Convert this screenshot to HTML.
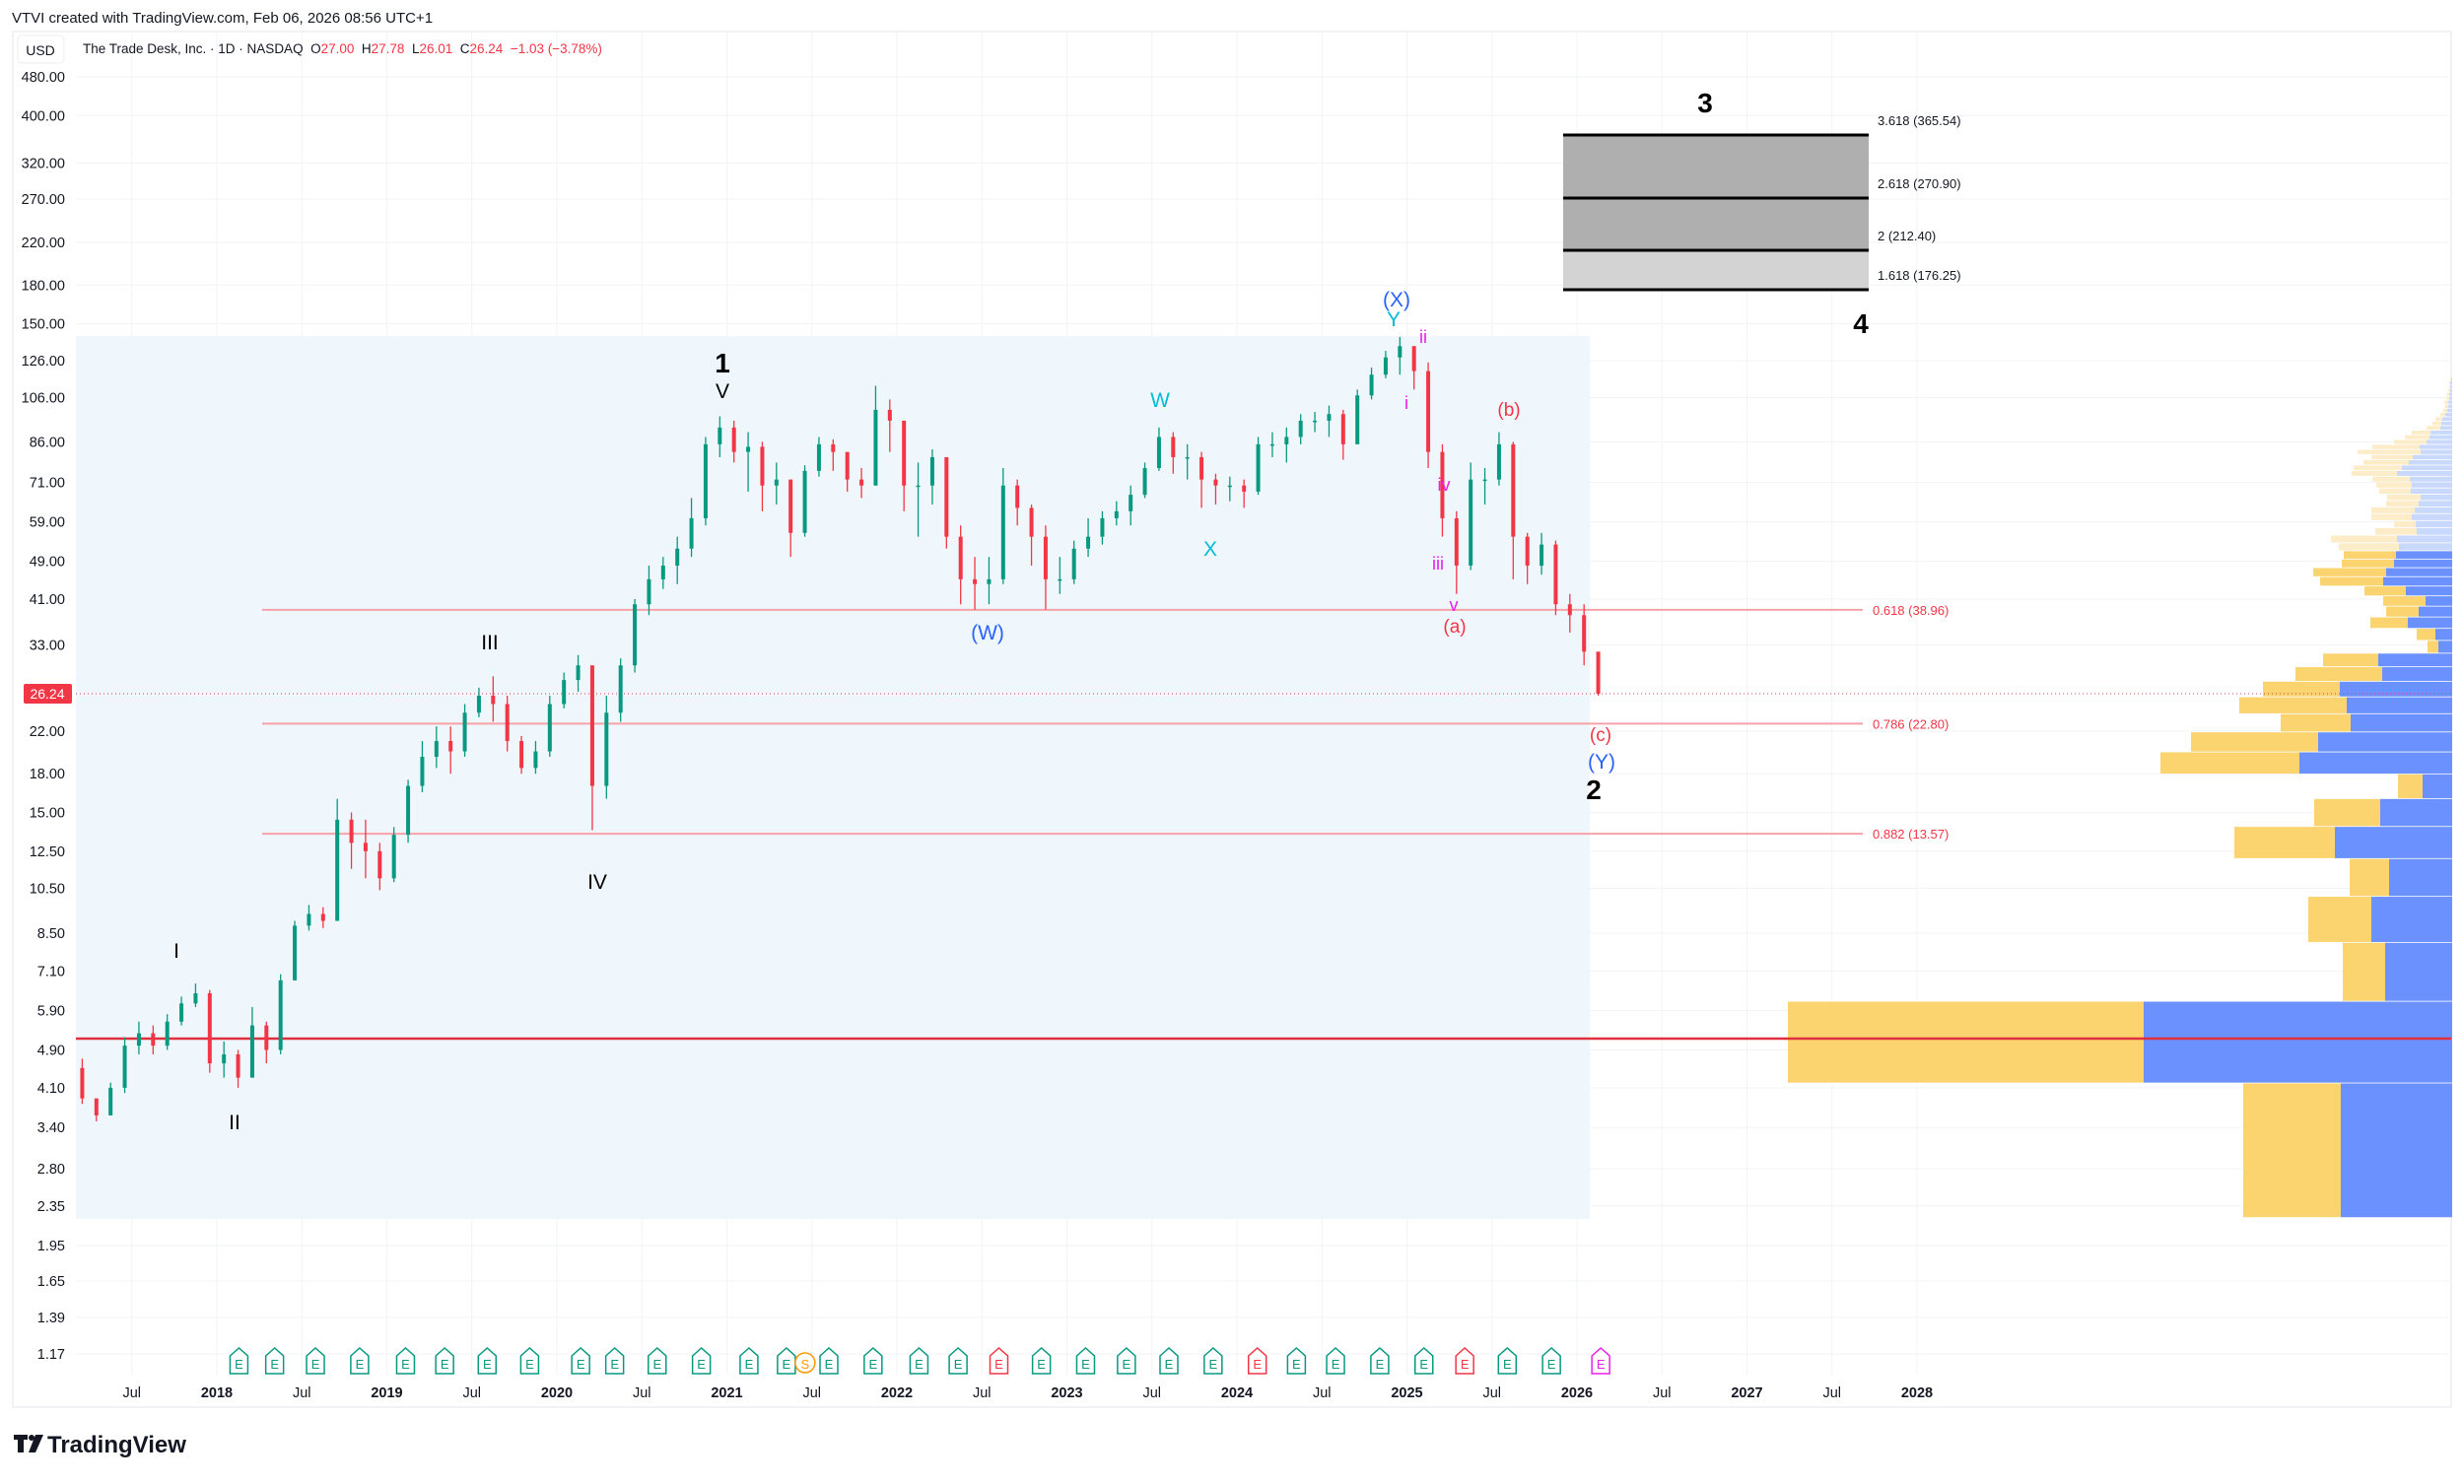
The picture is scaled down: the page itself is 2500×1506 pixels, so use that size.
<!DOCTYPE html>
<html><head><meta charset="utf-8"><style>
html,body{margin:0;padding:0;background:#fff;}
body{width:2500px;height:1501px;overflow:hidden;font-family:"Liberation Sans",sans-serif;}
svg text{font-family:"Liberation Sans",sans-serif;}
</style></head><body>
<svg id="chart" width="2500" height="1501" viewBox="0 0 2500 1501" xmlns="http://www.w3.org/2000/svg">
<rect x="0" y="0" width="2500" height="1501" fill="#fff"/>
<text x="12" y="23" font-size="15" fill="#131722">VTVI created with TradingView.com, Feb 06, 2026 08:56 UTC+1</text>
<rect x="13" y="32" width="2474" height="1396" fill="#fff" stroke="#eceef2" stroke-width="1.5"/>
<g id="grid"></g>
<rect x="77" y="341" width="1536" height="896" fill="#eff7fc"/>
<g id="vp"></g>
<g id="levels"></g>
<g id="candles"></g>
<g id="fib">
<rect x="1586" y="137" width="310" height="117" fill="#afafaf"/>
<rect x="1586" y="254" width="310" height="40" fill="#d3d3d3"/>
<line x1="1586" y1="137" x2="1896" y2="137" stroke="#000" stroke-width="3"/>
<line x1="1586" y1="201" x2="1896" y2="201" stroke="#000" stroke-width="3"/>
<line x1="1586" y1="254" x2="1896" y2="254" stroke="#000" stroke-width="3"/>
<line x1="1586" y1="294" x2="1896" y2="294" stroke="#000" stroke-width="3"/>
<text x="1905" y="127" font-size="13" fill="#131722">3.618 (365.54)</text>
<text x="1905" y="191" font-size="13" fill="#131722">2.618 (270.90)</text>
<text x="1905" y="244" font-size="13" fill="#131722">2 (212.40)</text>
<text x="1905" y="284" font-size="13" fill="#131722">1.618 (176.25)</text>
</g>
<g id="waves" font-size="21" text-anchor="middle">
<text x="733" y="378" font-size="28" font-weight="bold" fill="#000">1</text>
<text x="733" y="404" fill="#000">V</text>
<text x="497" y="659" fill="#000">III</text>
<text x="606" y="902" fill="#000">IV</text>
<text x="179" y="972" fill="#000">I</text>
<text x="238" y="1146" fill="#000">II</text>
<text x="1002" y="649" fill="#2962ff">(W)</text>
<text x="1177" y="413" fill="#00bcd4">W</text>
<text x="1228" y="564" fill="#00bcd4">X</text>
<text x="1417" y="311" fill="#2962ff">(X)</text>
<text x="1414" y="331" fill="#00bcd4">Y</text>
<text x="1444" y="348" font-size="18" fill="#e91ee9">ii</text>
<text x="1427" y="415" font-size="18" fill="#e91ee9">i</text>
<text x="1465" y="498" font-size="18" fill="#e91ee9">iv</text>
<text x="1459" y="578" font-size="18" fill="#e91ee9">iii</text>
<text x="1475" y="620" font-size="18" fill="#e91ee9">v</text>
<text x="1476" y="642" font-size="19" fill="#f23645">(a)</text>
<text x="1531" y="422" font-size="19" fill="#f23645">(b)</text>
<text x="1624" y="752" font-size="19" fill="#f23645">(c)</text>
<text x="1625" y="780" fill="#2962ff">(Y)</text>
<text x="1617" y="811" font-size="28" font-weight="bold" fill="#000">2</text>
<text x="1730" y="114" font-size="28" font-weight="bold" fill="#000">3</text>
<text x="1888" y="338" font-size="28" font-weight="bold" fill="#000">4</text>
</g>
<g id="events"></g>
<g id="axes"></g>
<rect x="18" y="36" width="47" height="28" rx="4" fill="#fff" stroke="#eceef2"/>
<text x="41" y="56" font-size="14" text-anchor="middle" fill="#131722">USD</text>
<text x="84" y="54" font-size="13.5" fill="#131722" xml:space="preserve">The Trade Desk, Inc. · 1D · NASDAQ  O<tspan fill="#f23645">27.00</tspan>  H<tspan fill="#f23645">27.78</tspan>  L<tspan fill="#f23645">26.01</tspan>  C<tspan fill="#f23645">26.24</tspan>  <tspan fill="#f23645">−1.03 (−3.78%)</tspan></text>
<g>
<rect x="14" y="1456" width="14" height="5" fill="#131722"/>
<rect x="18" y="1456" width="6" height="18" fill="#131722"/>
<circle cx="32" cy="1459" r="3" fill="#131722"/>
<path d="M36 1456 L44 1456 L36 1474 L29 1474 Z" fill="#131722"/>
<text x="48" y="1474" font-size="24" font-weight="bold" fill="#131722">TradingView</text>
</g>
</svg>
<script>
const NS='http://www.w3.org/2000/svg';
// ---- data ----
const priceTicks=[480,400,320,270,220,180,150,126,106,86,71,59,49,41,33,22,18,15,12.5,10.5,8.5,7.1,5.9,4.9,4.1,3.4,2.8,2.35,1.95,1.65,1.39,1.17];
const timeTicks=[2017.5,2018,2018.5,2019,2019.5,2020,2020.5,2021,2021.5,2022,2022.5,2023,2023.5,2024,2024.5,2025,2025.5,2026,2026.5,2027,2027.5,2028];
const timeLabels=['Jul','2018','Jul','2019','Jul','2020','Jul','2021','Jul','2022','Jul','2023','Jul','2024','Jul','2025','Jul','2026','Jul','2027','Jul','2028'];
const startYear=2017, startMonth=2; // March 2017 (0-based month)
const opens0=4.5;
const closes=[3.9,3.6,4.1,5.0,5.3,5.0,5.6,6.1,6.4,4.6,4.8,4.3,5.5,4.9,6.8,8.8,9.3,9.0,14.5,13.0,12.5,11.0,13.5,17.0,19.5,21.0,20.0,24.0,26.0,25.0,21.0,18.5,20.0,25.0,28.0,30.0,17.0,24.0,30.0,40.0,45.0,48.0,52.0,60.0,85.0,92.0,82.0,84.0,70.0,72.0,56.0,75.0,85.0,82.0,72.0,70.0,100.0,95.0,70.0,70.0,80.0,55.0,45.0,44.0,45.0,70.0,63.0,55.0,45.0,45.0,52.0,55.0,60.0,62.0,67.0,76.0,88.0,80.0,80.0,72.0,70.0,70.0,68.0,85.0,85.0,88.0,95.0,95.0,98.0,85.0,107.0,118.0,128.0,135.0,120.0,82.0,60.0,48.0,72.0,72.0,85.0,55.0,48.0,53.0,40.0,38.0,32.0,26.24];
const highs=[4.7,3.9,4.2,5.2,5.6,5.5,5.8,6.3,6.7,6.5,5.1,4.9,6.0,5.6,7.0,9.0,9.7,9.6,16.0,15.0,14.5,13.0,14.0,17.5,21.0,22.5,22.5,25.0,27.0,28.5,26.0,21.5,21.0,26.0,29.0,31.5,30.0,26.0,31.0,41.0,48.0,50.0,55.0,66.0,88.0,97.0,95.0,90.0,86.0,78.0,72.0,77.0,88.0,87.0,80.0,76.0,112.0,105.0,95.0,78.0,83.0,80.0,58.0,50.0,50.0,76.0,72.0,64.0,58.0,50.0,54.0,60.0,62.0,65.0,70.0,78.0,92.0,90.0,85.0,82.0,74.0,73.0,72.0,88.0,90.0,92.0,98.0,99.0,102.0,100.0,110.0,122.0,132.0,141.0,135.0,125.0,85.0,62.0,78.0,76.0,90.0,86.0,56.0,56.0,54.0,42.0,40.0,27.78];
const lows=[3.8,3.5,3.6,4.0,4.8,4.8,4.9,5.5,6.0,4.4,4.3,4.1,4.3,4.6,4.8,6.8,8.6,8.7,12.5,11.5,11.0,10.4,10.8,13.0,16.5,18.5,18.0,19.5,23.5,23.0,20.0,18.0,18.0,19.5,24.5,26.5,13.8,16.0,23.0,29.0,38.0,43.0,44.0,50.0,58.0,80.0,78.0,68.0,62.0,64.0,50.0,55.0,73.0,75.0,68.0,66.0,70.0,82.0,62.0,55.0,64.0,52.0,40.0,39.0,40.0,44.0,58.0,48.0,39.0,42.0,44.0,50.0,53.0,58.0,58.0,66.0,75.0,74.0,72.0,63.0,64.0,65.0,63.0,67.0,80.0,78.0,85.0,90.0,88.0,79.0,88.0,105.0,116.0,118.0,110.0,76.0,55.0,42.0,47.0,64.0,70.0,45.0,44.0,46.0,38.0,35.0,30.0,26.01];
// volume profile: rows of equal price height
const vpBase=2.22, vpStep=1.966;
const vpUp=[113,313,68,82,64,119,73,30,155,136,103,107,114,71,75,14,17,45,34,27,47,70,67,59,57,54,56,36,37,41,38,34,32,42,41,43,56,51,44,40,32,33,26,23,22,12,11,10,7,5,4,4,3,3,2,2,2,1];
const vpDown=[99,361,43,64,40,102,67,25,141,129,71,109,78,88,56,11,19,38,33,43,42,64,74,53,53,61,67,42,22,41,44,33,34,32,36,38,46,49,46,42,64,48,33,25,19,14,9,7,5,4,3,4,3,2,2,1,1,1];
const levelPrices=[38.96,22.80,13.57];
const levelLabels=['0.618 (38.96)','0.786 (22.80)','0.882 (13.57)'];
const supportPrice=5.17;
const lastPrice=26.24;
const eventYears=[2018.13,2018.34,2018.58,2018.84,2019.11,2019.34,2019.59,2019.84,2020.14,2020.34,2020.59,2020.85,2021.13,2021.35,2021.46,2021.60,2021.86,2022.13,2022.36,2022.60,2022.85,2023.11,2023.35,2023.60,2023.86,2024.12,2024.35,2024.58,2024.84,2025.10,2025.34,2025.59,2025.85,2026.14];
const eventTypes=['E','E','E','E','E','E','E','E','E','E','E','E','E','E','S','E','E','E','E','R','E','E','E','E','E','R','E','E','E','E','R','E','E','P'];
// ---- scales ----
const yOf=p=>78+(Math.log(480)-Math.log(p))*215.4;
const xOf=t=>220+(t-2018)*172.5;
function el(tag,attrs,parent){const e=document.createElementNS(NS,tag);for(const k in attrs)e.setAttribute(k,attrs[k]);parent.appendChild(e);return e;}
const grid=document.getElementById('grid'), axes=document.getElementById('axes');
priceTicks.forEach(p=>{
  el('line',{x1:77,x2:2487,y1:yOf(p),y2:yOf(p),stroke:'#f2f3f6','stroke-width':1},grid);
  const t=el('text',{x:66,y:yOf(p)+5,'font-size':14.5,'text-anchor':'end',fill:'#131722'},axes);
  
  
  t.textContent=p.toFixed(2);
});
timeTicks.forEach((t,i)=>{
  el('line',{x1:xOf(t),x2:xOf(t),y1:32,y2:1395,stroke:'#f2f3f6','stroke-width':1},grid);
  const tx=el('text',{x:xOf(t),y:1418,'font-size':14.5,'text-anchor':'middle',fill:'#131722','font-weight':timeLabels[i]==='Jul'?'normal':'bold'},axes);
  
  
  tx.textContent=timeLabels[i];
});
// volume profile
const vp=document.getElementById('vp');
vpUp.forEach((u,k)=>{
  const lo=vpBase+vpStep*k, hi=lo+vpStep;
  const y1=yOf(hi), y2=yOf(lo), h=Math.max(1,y2-y1-0.8);
  const faded=k>=25;
  const b=el('rect',{x:2488-u,y:y1,width:u,height:h,fill:faded?'#c9d8fd':'#6a91fd'},vp);
  
  
  const d=vpDown[k];
  const r=el('rect',{x:2488-u-d,y:y1,width:d,height:h,fill:faded?'#fdecc8':'#fbd36f'},vp);
  
  
});
// levels
const lv=document.getElementById('levels');
levelPrices.forEach((p,i)=>{
  const l=el('line',{x1:266,x2:1890,y1:yOf(p),y2:yOf(p),stroke:'#f7a1a8','stroke-width':2},lv);
  
  
  const t=el('text',{x:1900,y:yOf(p)+5,'font-size':13,fill:'#f23645'},lv);
  
  
  t.textContent=levelLabels[i];
});
const sl=el('line',{x1:77,x2:2487,y1:yOf(supportPrice),y2:yOf(supportPrice),stroke:'#e0303e','stroke-width':2.5},lv);


const cl=el('line',{x1:77,x2:2487,y1:yOf(lastPrice),y2:yOf(lastPrice),stroke:'#f23645','stroke-width':1,'stroke-dasharray':'1 3'},lv);


const pb=el('rect',{x:24,y:yOf(lastPrice)-10,width:49,height:20,rx:2,fill:'#f23645'},axes);


const pt=el('text',{x:48,y:yOf(lastPrice)+5,'font-size':14,'text-anchor':'middle',fill:'#fff'},axes);


pt.textContent=lastPrice.toFixed(2);
// candles
const cg=document.getElementById('candles');
closes.forEach((c,i)=>{
  const o=i===0?opens0:closes[i-1];
  const t=startYear+(startMonth+i)/12+1/24;
  const x=xOf(t);
  const up=c>=o, col=up?'#089981':'#f23645';
  const w=el('line',{x1:x,x2:x,y1:yOf(highs[i]),y2:yOf(lows[i]),stroke:col,'stroke-width':1.3},cg);
  
  
  const yt=yOf(Math.max(o,c)), yb=yOf(Math.min(o,c));
  const b=el('rect',{x:x-2,y:yt,width:4,height:Math.max(1.5,yb-yt),fill:col},cg);
  
  
});
// events
const ev=document.getElementById('events');
eventYears.forEach((t,i)=>{
  const x=xOf(t), y=1381, ty=eventTypes[i];
  const col=ty==='R'?'#f23645':ty==='S'?'#ff9800':ty==='P'?'#e91ee9':'#089981';
  const g=el('g',{},ev);
  
  
  if(ty==='S'){el('circle',{cx:x,cy:y+2,r:10,fill:'#fff',stroke:col,'stroke-width':1.5},g);}
  else el('path',{d:`M${x-9} ${y-5} L${x} ${y-13} L${x+9} ${y-5} L${x+9} ${y+13} L${x-9} ${y+13} Z`,fill:'#fff',stroke:col,'stroke-width':1.5},g);
  const tx=el('text',{x:x,y:y+8,'font-size':13,'text-anchor':'middle',fill:col},g);
  tx.textContent=ty==='S'?'S':'E';
});
</script>
</body></html>
